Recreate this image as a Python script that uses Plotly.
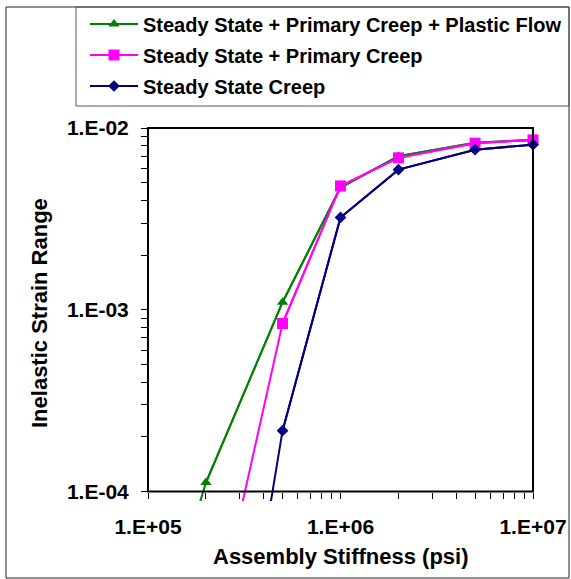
import plotly.graph_objects as go

# ---- data ----
stiffness = [1e5, 2e5, 5e5, 1e6, 2e6, 5e6, 1e7]
ss_pc_pf = [1.0e-5, 1.12e-4, 1.10e-3, 4.70e-3, 7.00e-3, 8.30e-3, 8.60e-3]
ss_pc = [None, 1.1e-5, 8.4e-4, 4.80e-3, 6.85e-3, 8.25e-3, 8.60e-3]
ss_only = [None, 6.0e-7, 2.16e-4, 3.22e-3, 5.90e-3, 7.60e-3, 8.10e-3]

names = ["Steady State + Primary Creep + Plastic Flow",
         "Steady State + Primary Creep",
         "Steady State Creep"]
colors = ["#008000", "#FF00FF", "#000080"]
symbols = ["triangle-up", "square", "diamond"]
msizes = [10, 11, 9]

x_ticks = [1e5, 1e6, 1e7]
x_ticktext = ["1.E+05", "1.E+06", "1.E+07"]
y_ticks = [1e-4, 1e-3, 1e-2]
y_ticktext = ["1.E-04", "1.E-03", "1.E-02"]

# ---- layout geometry (pixels) ----
W, H = 571, 579
L, R, T, B = 148, 533, 128, 501   # plot area (B includes overhang below axis)
AX_Y = 491.5                       # pixel of 1e-4 (x axis line)
pw, ph = R - L, B - T
decade_px = (AX_Y - T) / 2.0
ymin = -4 - (B - AX_Y) / decade_px

def px(xp):
    return (xp - L) / pw

def py(yp):
    return (B - yp) / ph

font_family = "Liberation Sans, Arial, sans-serif"
FONT = dict(family=font_family, size=21, color="black", weight="bold")

fig = go.Figure()

def in_range(v):
    return v is not None and 1e-4 <= v <= 1e-2

for i, (ys, nm, c, s, ms) in enumerate(zip([ss_pc_pf, ss_pc, ss_only], names, colors, symbols, msizes)):
    # full line (clipped to plot area), includes off-scale points
    fig.add_trace(go.Scatter(x=stiffness, y=ys, mode="lines", line=dict(color=c, width=2),
                             showlegend=False, hoverinfo="skip", connectgaps=False,
                             legendgroup=f"g{i}"))
    xv = [x for x, y in zip(stiffness, ys) if in_range(y)]
    yv = [y for y in ys if in_range(y)]
    fig.add_trace(go.Scatter(x=xv, y=yv, mode="lines+markers", name=nm,
                             line=dict(color=c, width=2), legendgroup=f"g{i}",
                             marker=dict(symbol=s, size=ms, color=c, line=dict(width=0)),
                             cliponaxis=False))

minor_x = [m * 10 ** e for e in (5, 6) for m in range(2, 10)]
minor_y = [m * 10 ** e for e in (-4, -3) for m in range(2, 10)]

fig.update_xaxes(type="log", range=[5, 7], anchor="free", position=py(AX_Y),
                 automargin=False,
                 showline=False, showgrid=False, zeroline=False,
                 tickmode="array", tickvals=x_ticks, ticktext=x_ticktext,
                 ticks="outside", ticklen=6, tickwidth=1, tickcolor="black",
                 ticklabelstandoff=10, tickfont=FONT,
                 minor=dict(tickmode="array", tickvals=minor_x, ticks="outside",
                            ticklen=6, tickwidth=1, tickcolor="black", showgrid=False))
fig.update_yaxes(type="log", range=[ymin, -2], domain=[0, 1],
                 automargin=False,
                 showline=False, showgrid=False, zeroline=False,
                 tickmode="array", tickvals=y_ticks, ticktext=y_ticktext,
                 ticks="outside", ticklen=6, tickwidth=1, tickcolor="black",
                 ticklabelstandoff=8, tickfont=FONT,
                 minor=dict(tickmode="array", tickvals=minor_y, ticks="outside",
                            ticklen=6, tickwidth=1, tickcolor="black", showgrid=False))

shapes = [
    # plot frame
    dict(type="rect", xref="paper", yref="paper", x0=0, x1=1, y0=py(AX_Y), y1=1,
         line=dict(color="black", width=2), fillcolor="rgba(0,0,0,0)", layer="above"),
    # outer chart border
    dict(type="rect", xref="paper", yref="paper", x0=px(6), x1=px(569), y0=py(578), y1=py(7),
         line=dict(color="#222222", width=1), fillcolor="rgba(0,0,0,0)", layer="above"),
    # legend box
    dict(type="rect", xref="paper", yref="paper", x0=px(76), x1=px(569), y0=py(106), y1=py(7),
         line=dict(color="#555555", width=1), fillcolor="rgba(0,0,0,0)", layer="above"),
]

annotations = [
    dict(text="Assembly Stiffness (psi)", xref="paper", yref="paper", x=px(341), y=py(556),
         xanchor="center", yanchor="middle", showarrow=False,
         font=dict(family=font_family, size=22, color="black", weight="bold")),
    dict(text="Inelastic Strain Range", xref="paper", yref="paper", x=px(39), y=py(313),
         xanchor="center", yanchor="middle", showarrow=False, textangle=-90,
         font=dict(family=font_family, size=22, color="black", weight="bold")),
]

fig.update_layout(
    width=W, height=H,
    margin=dict(l=L, r=W - R, t=T, b=H - B, pad=0, autoexpand=False),
    plot_bgcolor="white", paper_bgcolor="white",
    shapes=shapes, annotations=annotations,
    legend=dict(x=px(85), y=py(4.5), xanchor="left", yanchor="top",
                bgcolor="rgba(0,0,0,0)", borderwidth=0, itemwidth=48,
                font=dict(family=font_family, size=20, color="black", weight="bold"),
                tracegroupgap=2),
)

fig.write_html("out.html")
